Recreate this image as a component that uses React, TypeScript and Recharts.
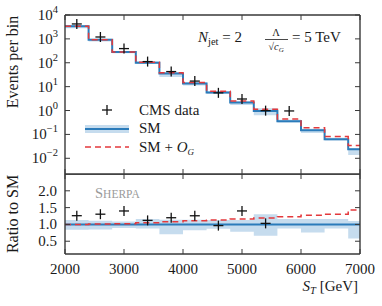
import React from 'react';
import { ComposedChart, Line, Area, Scatter, XAxis, YAxis } from 'recharts';

// ---- data ----
const binEdges = [2000, 2400, 2800, 3200, 3600, 4000, 4400, 4800, 5200, 5600, 6000, 6400, 6800, 7000];
const smValues = [3350, 920, 280, 100, 35.7, 13.6, 5.7, 2.17, 0.96, 0.356, 0.149, 0.0625, 0.0238];
const smBandLow = [0.84, 0.85, 0.89, 0.88, 0.71, 0.83, 0.87, 0.78, 0.66, 0.88, 0.76, 0.88, 0.58];
const smBandHigh = [1.13, 1.11, 1.09, 1.16, 1.14, 1.14, 1.13, 1.13, 1.3, 1.16, 1.16, 1.16, 1.1];
const bsmRatio = [1.0, 1.01, 1.02, 1.05, 1.08, 1.11, 1.13, 1.16, 1.19, 1.23, 1.27, 1.3, 1.43];
const dataX = [2200, 2600, 3000, 3400, 3800, 4200, 4600, 5000, 5400, 5800];
const dataY = [4220, 1200, 392, 112, 42.8, 17.1, 5.5, 3.04, 0.99, 0.96];
const xTicks = [2000, 3000, 4000, 5000, 6000, 7000];
const logTicks = [1e-2, 1e-1, 1, 10, 100, 1000, 10000];
const ratioTicks = [0.5, 1.0, 1.5, 2.0];
const logDomain = [0.0022, 10000];
const ratioDomain = [0.12, 2.5];

// ---- derived tables ----
const nb = smValues.length;
const topSteps = binEdges.map((x, i) => {
  const j = Math.min(i, nb - 1);
  return { x, sm: smValues[j], band: [smValues[j] * smBandLow[j], smValues[j] * smBandHigh[j]], bsm: smValues[j] * bsmRatio[j] };
});
const ratioSteps = binEdges.map((x, i) => {
  const j = Math.min(i, nb - 1);
  return { x, one: 1, band: [smBandLow[j], smBandHigh[j]], bsm: bsmRatio[j] };
});
const cmsPoints = dataX.map((x, i) => ({ x, y: dataY[i] }));
const ratioPoints = dataX
  .map((x, i) => {
    const b = binEdges.findIndex((e, k) => k < nb && x >= e && x < binEdges[k + 1]);
    return { x, y: dataY[i] / smValues[b] };
  })
  .filter((p) => p.y <= ratioDomain[1]);

// ---- style ----
const F = "'Liberation Serif', 'Times New Roman', serif";
const AX = '#383838';
const TXT = '#1a1a1a';
const BLUE = '#2b7bba';
const BAND = '#c6dcee';
const RED = '#e3393c';
const FS = 15;

const Plus = (p: any) => {
  const { cx, cy } = p;
  if (cx == null || cy == null) return null;
  return (
    <g stroke="#111" strokeWidth={1.3}>
      <line x1={cx - 5} x2={cx + 5} y1={cy} y2={cy} />
      <line x1={cx} x2={cx} y1={cy - 5} y2={cy + 5} />
    </g>
  );
};

const LogTickLeft = (p: any) => {
  const { x, y, payload } = p;
  const e = Math.round(Math.log10(payload.value));
  return (
    <g>
      <line x1={x + 7} x2={x + 12} y1={y} y2={y} stroke={AX} strokeWidth={1} />
      <text x={x} y={y + 5} textAnchor="end" fontFamily={F} fontSize={FS} fill={TXT}>
        10<tspan dy={-7} fontSize={10.5}>{e < 0 ? '\u2212' + -e : String(e)}</tspan>
      </text>
    </g>
  );
};

const RatioTickLeft = (p: any) => {
  const { x, y, payload } = p;
  return (
    <g>
      <line x1={x + 8} x2={x + 13} y1={y} y2={y} stroke={AX} strokeWidth={1} />
      <text x={x} y={y + 5} textAnchor="end" fontFamily={F} fontSize={FS} fill={TXT}>
        {Number(payload.value).toFixed(1)}
      </text>
    </g>
  );
};

const RightTick = (p: any) => {
  const { x, y } = p;
  return <line x1={x - 5} x2={x} y1={y} y2={y} stroke={AX} strokeWidth={1} />;
};
const TopTick = (p: any) => {
  const { x, y } = p;
  return <line x1={x} x2={x} y1={y} y2={y + 5} stroke={AX} strokeWidth={1} />;
};
const BottomTick = (p: any) => {
  const { x, y } = p;
  return <line x1={x} x2={x} y1={y - 5} y2={y} stroke={AX} strokeWidth={1} />;
};
const BottomTickLabel = (p: any) => {
  const { x, y, payload } = p;
  return (
    <g>
      <line x1={x} x2={x} y1={y - 5} y2={y} stroke={AX} strokeWidth={1} />
      <text x={x} y={y + 20} textAnchor="middle" fontFamily={F} fontSize={FS} fill={TXT}>
        {payload.value}
      </text>
    </g>
  );
};

const axisLine = { stroke: AX, strokeWidth: 1.4 };

export default function App() {
  return (
    <div style={{ position: 'absolute', left: 0, top: 0, width: 382, height: 306, background: '#fff', fontFamily: F }}>
      <div style={{ position: 'absolute', left: 0, top: 0 }}>
        <ComposedChart width={382} height={175} margin={{ top: 14, right: 21, bottom: 0, left: 0 }}>
          <XAxis dataKey="x" type="number" domain={[2000, 7000]} ticks={xTicks} interval={0} height={1} tickSize={0} tickMargin={0} tick={BottomTick} axisLine={axisLine} tickLine={false} allowDataOverflow />
          <XAxis xAxisId="top" orientation="top" dataKey="x" type="number" domain={[2000, 7000]} ticks={xTicks} interval={0} height={1} tickSize={0} tickMargin={0} tick={TopTick} axisLine={axisLine} tickLine={false} allowDataOverflow />
          <YAxis scale="log" type="number" domain={logDomain} ticks={logTicks} interval={0} width={65} tickSize={0} tickMargin={7} tick={LogTickLeft} axisLine={axisLine} tickLine={false} allowDataOverflow />
          <YAxis yAxisId="right" orientation="right" scale="log" type="number" domain={logDomain} ticks={logTicks} interval={0} width={1} tickSize={0} tickMargin={0} tick={RightTick} axisLine={axisLine} tickLine={false} allowDataOverflow />
          <Area data={topSteps} dataKey="band" type="stepAfter" stroke="none" fill={BAND} fillOpacity={1} isAnimationActive={false} dot={false} activeDot={false} />
          <Line data={topSteps} dataKey="sm" type="stepAfter" stroke={BLUE} strokeWidth={2} dot={false} activeDot={false} isAnimationActive={false} />
          <Line data={topSteps} dataKey="bsm" type="stepAfter" stroke={RED} strokeWidth={1.5} strokeDasharray="6 4" dot={false} activeDot={false} isAnimationActive={false} />
          <Line data={topSteps} dataKey="sm" xAxisId="top" yAxisId="right" stroke="none" dot={false} activeDot={false} isAnimationActive={false} legendType="none" />
          <Scatter data={cmsPoints} dataKey="y" shape={Plus} isAnimationActive={false} />
        </ComposedChart>
      </div>
      <div style={{ position: 'absolute', left: 0, top: 174 }}>
        <ComposedChart width={382} height={132} margin={{ top: -1, right: 21, bottom: 0, left: 0 }}>
          <XAxis dataKey="x" type="number" domain={[2000, 7000]} ticks={xTicks} interval={0} height={52} tickSize={0} tickMargin={0} tick={BottomTickLabel} axisLine={axisLine} tickLine={false} allowDataOverflow />
          <XAxis xAxisId="top" orientation="top" dataKey="x" type="number" domain={[2000, 7000]} ticks={xTicks} interval={0} height={1} tickSize={0} tickMargin={0} tick={TopTick} axisLine={axisLine} tickLine={false} allowDataOverflow />
          <YAxis type="number" domain={ratioDomain} ticks={ratioTicks} interval={0} width={65} tickSize={0} tickMargin={8} tick={RatioTickLeft} axisLine={axisLine} tickLine={false} allowDataOverflow />
          <YAxis yAxisId="right" orientation="right" type="number" domain={ratioDomain} ticks={ratioTicks} interval={0} width={1} tickSize={0} tickMargin={0} tick={RightTick} axisLine={axisLine} tickLine={false} allowDataOverflow />
          <Area data={ratioSteps} dataKey="band" type="stepAfter" stroke="none" fill={BAND} fillOpacity={1} isAnimationActive={false} dot={false} activeDot={false} />
          <Line data={ratioSteps} dataKey="one" type="stepAfter" stroke={BLUE} strokeWidth={2} dot={false} activeDot={false} isAnimationActive={false} />
          <Line data={ratioSteps} dataKey="bsm" type="stepAfter" stroke={RED} strokeWidth={1.5} strokeDasharray="6 4" dot={false} activeDot={false} isAnimationActive={false} />
          <Line data={ratioSteps} dataKey="one" xAxisId="top" yAxisId="right" stroke="none" dot={false} activeDot={false} isAnimationActive={false} legendType="none" />
          <Scatter data={ratioPoints} dataKey="y" shape={Plus} isAnimationActive={false} />
        </ComposedChart>
      </div>
      <svg width={382} height={306} style={{ position: 'absolute', left: 0, top: 0, pointerEvents: 'none' }} fontFamily={F} fill={TXT}>
        <text transform="translate(18,62) rotate(-90)" textAnchor="middle" fontSize={16}>Events per bin</text>
        <text transform="translate(18,214) rotate(-90)" textAnchor="middle" fontSize={16}>Ratio to SM</text>
        {/* legend */}
        <g stroke="#111" strokeWidth={1.3}>
          <line x1={102} x2={112} y1={110} y2={110} />
          <line x1={107} x2={107} y1={105} y2={115} />
        </g>
        <text x={139} y={115} fontSize={FS}>CMS data</text>
        <rect x={85} y={125} width={44} height={8} fill={BAND} />
        <line x1={85} x2={129} y1={129} y2={129} stroke={BLUE} strokeWidth={2} />
        <text x={139} y={133} fontSize={FS}>SM</text>
        <line x1={85} x2={129} y1={147} y2={147} stroke={RED} strokeWidth={1.5} strokeDasharray="6 4" />
        <text x={139} y={152} fontSize={FS}>SM + <tspan fontStyle="italic">O</tspan><tspan fontSize={9} dy={3} fontStyle="italic">G</tspan></text>
        {/* annotations */}
        <text x={198} y={42} fontSize={FS}><tspan fontStyle="italic">N</tspan><tspan fontSize={10.5} dy={3}>jet</tspan><tspan dy={-3}> = 2</tspan></text>
        <text x={276} y={36} fontSize={10.5} textAnchor="middle">Λ</text>
        <line x1={265} x2={288} y1={39.5} y2={39.5} stroke={TXT} strokeWidth={0.8} />
        <text x={276} y={50} fontSize={10.5} textAnchor="middle">√<tspan fontStyle="italic">c</tspan><tspan fontSize={7} dy={2} fontStyle="italic">G</tspan></text>
        <text x={292} y={42} fontSize={FS}>= 5 TeV</text>
        <text x={95} y={198} fill="#9a9a9a" fontSize={14.5}>S<tspan fontSize={11.5}>HERPA</tspan></text>
        <text x={358} y={291} textAnchor="end" fontSize={FS}><tspan fontStyle="italic">S</tspan><tspan fontSize={10.5} dy={3} fontStyle="italic">T</tspan><tspan dy={-3}> [GeV]</tspan></text>
      </svg>
    </div>
  );
}
